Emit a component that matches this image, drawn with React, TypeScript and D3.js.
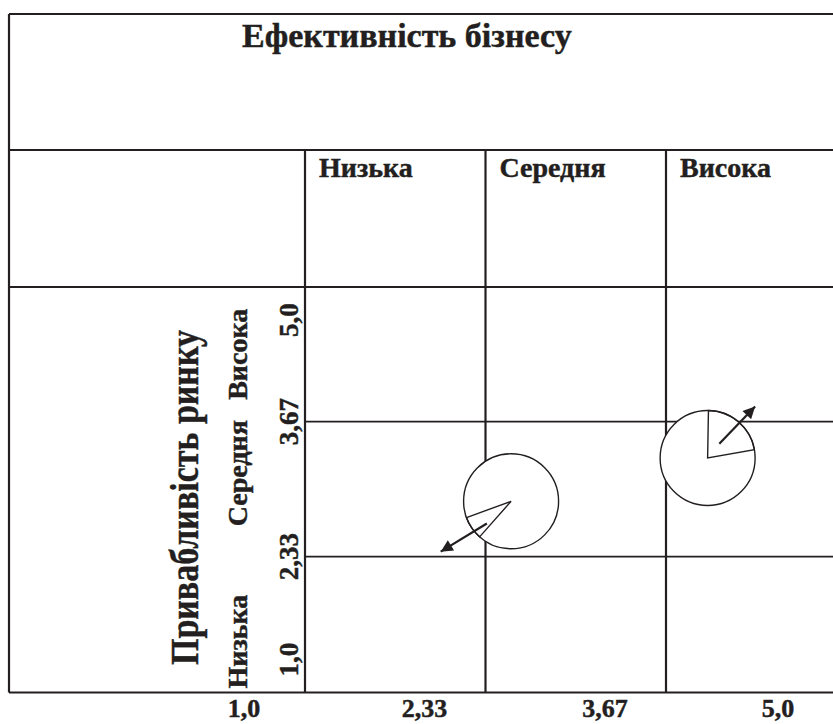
import React from "react";
import * as d3 from "d3";

// ---- data ----
const title = "Ефективність бізнесу";
const yTitle = "Привабливість ринку";
const columnLabels = ["Низька", "Середня", "Висока"];
const rowLabels = ["Низька", "Середня", "Висока"];
const scaleBreaks = [1, 2.33, 3.67, 5];
const xTickLabels = ["1,0", "2,33", "3,67", "5,0"];
const yTickLabels = ["1,0", "2,33", "3,67", "5,0"];

// business units
const unitX = [2.52, 3.99];
const unitY = [2.88, 3.31];
const unitSize = [100, 100];
const sliceStartDeg = [221.5, 1];
const sliceShare = [0.079, 0.219];
const arrowFromX = [2.34, 4.08];
const arrowFromY = [2.66, 3.45];
const arrowToX = [2.0, 4.355];
const arrowToY = [2.38, 3.82];

const W = 833;
const H = 724;
const INK = "#231f20";
const FONT = "'Liberation Serif', 'Times New Roman', serif";

export default function App() {
  const left = 9;
  const top = 14;
  const titleBottom = 150;
  const headerBottom = 287;
  const plotBottom = 692.5;

  const x = d3.scaleLinear().domain(scaleBreaks).range([305, 485.5, 666, 839]);
  const y = d3.scaleLinear().domain(scaleBreaks).range([plotBottom, 556.7, 421.7, headerBottom]);
  const r = d3.scaleSqrt().domain([0, 100]).range([0, 47.5]);
  const arc = d3.arc();

  const units = unitX.map((ux, i) => ({
    cx: x(ux),
    cy: y(unitY[i]),
    rad: r(unitSize[i]),
    a0: (sliceStartDeg[i] * Math.PI) / 180,
    a1: (sliceStartDeg[i] * Math.PI) / 180 + sliceShare[i] * 2 * Math.PI,
    x1: x(arrowFromX[i]),
    y1: y(arrowFromY[i]),
    x2: x(arrowToX[i]),
    y2: y(arrowToY[i]),
  }));

  const rowNudge = [17, -16, 0];
  const textStroke = { stroke: INK, strokeWidth: 0.45 };

  return (
    <svg
      width={W}
      height={H}
      style={{ position: "absolute", left: 0, top: 0, background: "#fff" }}
      fontFamily={FONT}
      fontWeight="bold"
      fill={INK}
    >
      <defs>
        <marker
          id="ah"
          viewBox="0 0 10 10"
          refX={10}
          refY={5}
          markerWidth={17}
          markerHeight={12}
          markerUnits="userSpaceOnUse"
          orient="auto"
        >
          <path d="M0,0 L10,5 L0,10 z" fill={INK} />
        </marker>
      </defs>

      {/* table frame */}
      <g stroke={INK} strokeWidth={2.2} fill="none">
        <line x1={left} x2={W + 20} y1={top} y2={top} />
        <line x1={left} x2={left} y1={top} y2={plotBottom} />
        <line x1={left} x2={W + 20} y1={titleBottom} y2={titleBottom} />
        <line x1={left} x2={W + 20} y1={headerBottom} y2={headerBottom} />
        <line x1={left} x2={W + 20} y1={plotBottom} y2={plotBottom} />
        {scaleBreaks.slice(0, 3).map((v) => (
          <line key={v} x1={x(v)} x2={x(v)} y1={titleBottom} y2={plotBottom} />
        ))}
        {scaleBreaks.slice(1, 3).map((v) => (
          <line key={"h" + v} x1={x(1)} x2={W + 20} y1={y(v)} y2={y(v)} strokeWidth={1.8} />
        ))}
      </g>

      <g {...textStroke}>
        {/* title */}
        <text x={242} y={46.7} fontSize={34}>
          {title}
        </text>

        {/* column headers */}
        {columnLabels.map((c, i) => (
          <text key={c} x={x(scaleBreaks[i]) + 14} y={177} fontSize={28}>
            {c}
          </text>
        ))}

        {/* x tick labels */}
        {xTickLabels.map((t, i) => (
          <text key={t} x={x(scaleBreaks[i]) - 61} y={717} fontSize={26} textAnchor="middle">
            {t}
          </text>
        ))}

        {/* y tick labels (rotated) */}
        {yTickLabels.map((t, i) => {
          const cy = Math.max(headerBottom + 33, Math.min(plotBottom - 33, y(scaleBreaks[i])));
          return (
            <text
              key={t}
              transform={`translate(298,${cy}) rotate(-90)`}
              fontSize={27}
              textAnchor="middle"
            >
              {t}
            </text>
          );
        })}

        {/* row labels (rotated) */}
        {rowLabels.map((t, i) => {
          const cy = (y(scaleBreaks[i]) + y(scaleBreaks[i + 1])) / 2 + rowNudge[i];
          return (
            <text
              key={t}
              transform={`translate(246.5,${cy}) rotate(-90)`}
              fontSize={28}
              textAnchor="middle"
            >
              {t}
            </text>
          );
        })}

        {/* y axis title */}
        <text
          transform={`translate(198,497.5) rotate(-90)`}
          fontSize={40}
          textAnchor="middle"
          textLength={335}
          lengthAdjust="spacingAndGlyphs"
        >
          {yTitle}
        </text>
      </g>

      {/* business units */}
      {units.map((u, i) => (
        <g key={i}>
          <circle cx={u.cx} cy={u.cy} r={u.rad} fill="#fff" stroke={INK} strokeWidth={1.4} />
          <path
            transform={`translate(${u.cx},${u.cy})`}
            d={arc({ innerRadius: 0, outerRadius: u.rad, startAngle: u.a0, endAngle: u.a1 }) || ""}
            fill="none"
            stroke={INK}
            strokeWidth={1.4}
          />
          <line
            x1={u.x1}
            y1={u.y1}
            x2={u.x2}
            y2={u.y2}
            stroke={INK}
            strokeWidth={2.2}
            markerEnd="url(#ah)"
          />
        </g>
      ))}
    </svg>
  );
}
